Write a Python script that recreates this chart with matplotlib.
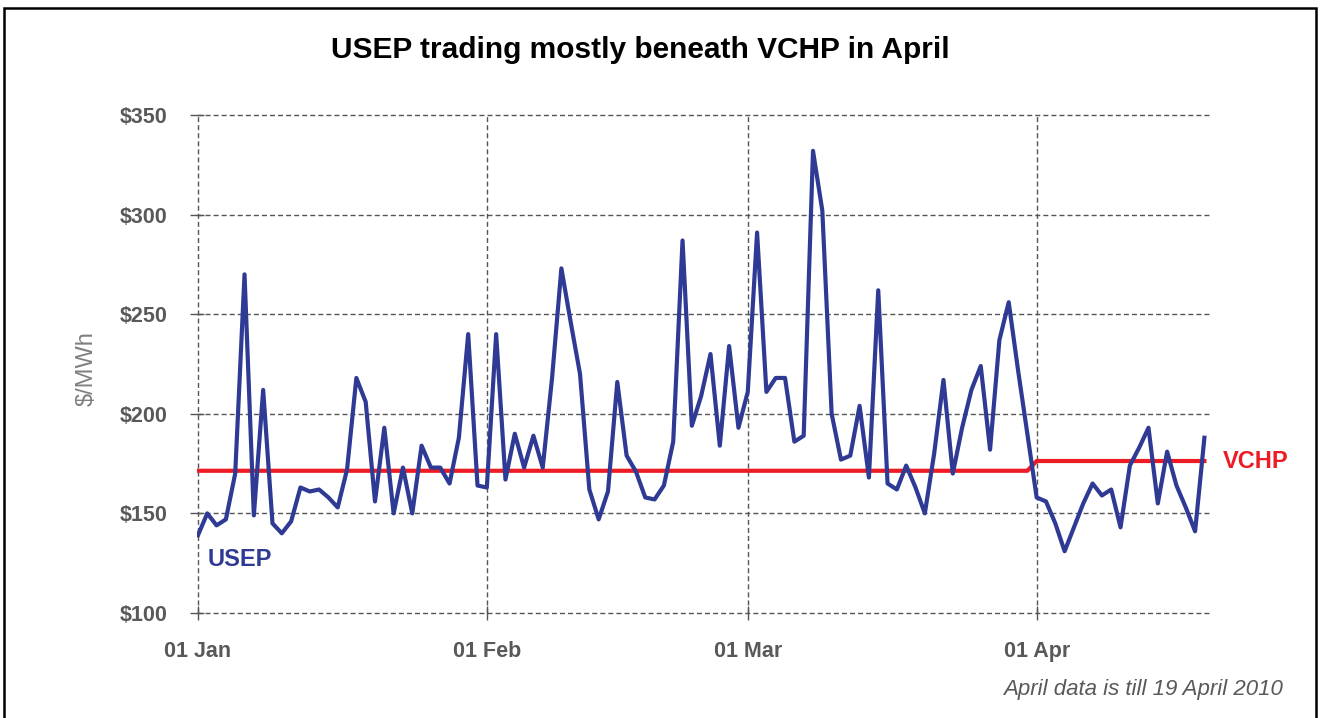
import numpy as np
import pandas as pd
import matplotlib
matplotlib.use("Agg")
import matplotlib.pyplot as plt
import matplotlib.dates as mdates
from matplotlib.patches import Rectangle

plt.rcParams['font.family'] = ['Liberation Sans', 'DejaVu Sans']

# ------------------------------------------------------------
# Data: daily USEP (S$/MWh), 01 Jan - 19 Apr 2010
# ------------------------------------------------------------
start_date = "2010-01-01"
end_date = "2010-04-19"

usep_jan = [139, 150, 144, 147, 170, 270, 149, 212, 145, 140, 146, 163, 161, 162,
            158, 153, 172, 218, 206, 156, 193, 150, 173, 150, 184, 173, 173, 165,
            188, 240, 164]
usep_feb = [163, 240, 167, 190, 173, 189, 173, 218, 273, 246, 220, 162, 147, 161,
            216, 179, 171, 158, 157, 164, 186, 287, 194, 209, 230, 184, 234, 193]
usep_mar = [211, 291, 211, 218, 218, 186, 189, 332, 302, 200, 177, 179, 204, 168,
            262, 165, 162, 174, 163, 150, 180, 217, 170, 193, 212, 224, 182, 237,
            256, 222, 190]
usep_apr = [158, 156, 145, 131, 143, 155, 165, 159, 162, 143, 174, 183, 193, 155,
            181, 164, 153, 141, 188]

# VCHP step: one level Jan-Mar, a higher one in April
vchp_dates = ["2010-01-01", "2010-03-31", "2010-04-01", "2010-04-19"]
vchp_values = [171.4, 171.4, 176.3, 176.3]

y_ticks = [100, 150, 200, 250, 300, 350]

dates = pd.date_range(start_date, end_date, freq="D")
usep = usep_jan + usep_feb + usep_mar + usep_apr
df = pd.DataFrame({"date": dates, "usep": usep})
vchp = pd.DataFrame({"date": pd.to_datetime(vchp_dates), "vchp": vchp_values})

BLUE = "#2E3A94"
RED = "#ED1C24"
GREY = "#595959"

# ------------------------------------------------------------
# Figure
# ------------------------------------------------------------
fig = plt.figure(figsize=(13.23, 7.18), dpi=100)
ax = fig.add_axes([197/1323, 1 - 613/718, (1210 - 197)/1323, (613 - 115)/718])

ax.plot(df.date, df.usep, color=BLUE, lw=3.0, solid_joinstyle="round", zorder=3)
ax.plot(vchp.date, vchp.vchp, color=RED, lw=3.0, zorder=2)

x0 = mdates.date2num(pd.Timestamp(start_date))
ax.set_xlim(x0 - 0.1, x0 + 108.6)
ax.set_ylim(100, 350)

ax.xaxis.set_major_locator(mdates.MonthLocator())
ax.xaxis.set_major_formatter(mdates.DateFormatter("%d %b"))
ax.set_yticks(y_ticks)
ax.set_yticklabels([f"${v}" for v in y_ticks])

for s in ax.spines.values():
    s.set_visible(False)
ax.grid(True, color="#555555", lw=1.0, linestyle=(0, (3.6, 2.2)))
ax.set_axisbelow(True)
for gl in ax.get_xgridlines() + ax.get_ygridlines():
    gl.set_clip_on(False)

ax.tick_params(axis="both", direction="inout", length=10, width=1.0, color="#555555",
               labelcolor=GREY, labelsize=15.5)
ax.tick_params(axis="y", pad=16.5)
ax.tick_params(axis="x", pad=15)
for lab in ax.get_xticklabels() + ax.get_yticklabels():
    lab.set_fontweight("bold")

ax.set_ylabel("$/MWh", color="#7F7F7F", fontsize=17)
ax.yaxis.set_label_coords(-0.0977, 0.49)

# Series labels
ax.text(x0 + 1.0, 127, "USEP", color=BLUE, fontsize=17, fontweight="bold",
        va="center", ha="left")
ax.text(x0 + 110.0, 176.3, "VCHP", color=RED, fontsize=17, fontweight="bold",
        va="center", ha="left", clip_on=False)

fig.text(0.484, 0.931, "USEP trading mostly beneath VCHP in April",
         ha="center", va="center", fontsize=21.5, fontweight="bold", color="black")
fig.text(1283/1323, 1 - 689/718, "April data is till 19 April 2010",
         ha="right", va="center", fontsize=16, style="italic", color=GREY)

# Outer frame of the slide graphic
fig.patches.append(Rectangle((4/1323, -0.05), (1316 - 4)/1323, 1.05 - 8/718,
                             transform=fig.transFigure, fill=False,
                             edgecolor="black", lw=1.8))

fig.savefig("out.png", dpi=100)
